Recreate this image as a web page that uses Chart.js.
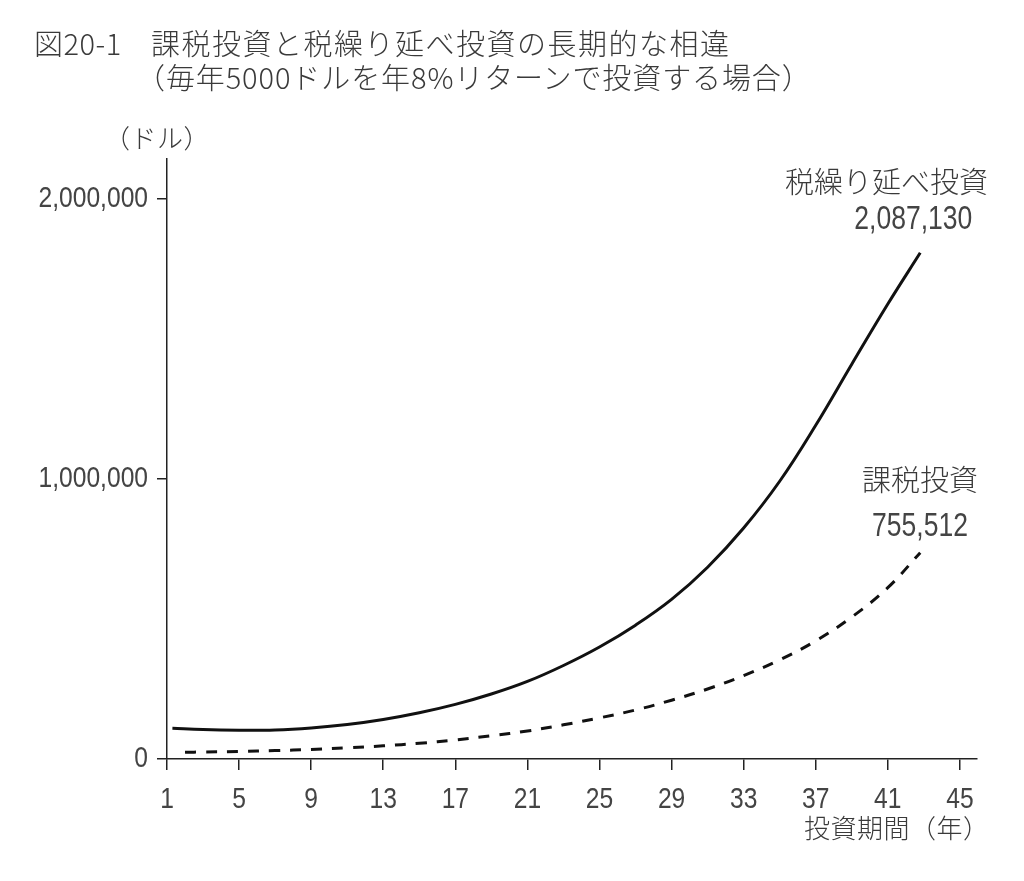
<!DOCTYPE html>
<html lang="ja">
<head>
<meta charset="utf-8">
<script src="https://cdn.jsdelivr.net/npm/chart.js@4.4.1/dist/chart.umd.min.js"></script>
<style>
  html, body { margin: 0; padding: 0; background: #fff; }
  #wrap { position: relative; width: 1024px; height: 881px; overflow: hidden; }
  #chartCanvas { position: absolute; left: 0; top: 0; }
  .txt { position: absolute; color: #3a3a3a; font-family: "Noto Sans CJK JP", "Noto Sans", sans-serif; font-weight: 300; white-space: nowrap; line-height: 1; }
  .num { font-family: "Liberation Sans", sans-serif; font-weight: 400; color: #444; transform: scaleX(0.78); transform-origin: right center; }
</style>
</head>
<body>
<div id="wrap">
  <canvas id="chartCanvas" width="1024" height="881"></canvas>
  <div class="txt" style="left:34px; top:28px; font-size:29px; letter-spacing:0.5px;">図20-1</div>
  <div class="txt" style="left:151px; top:28px; font-size:29px; letter-spacing:1.5px;">課税投資と税繰り延べ投資の長期的な相違</div>
  <div class="txt" style="left:136px; top:62px; font-size:29px; letter-spacing:0.9px;">（毎年5000ドルを年8%リターンで投資する場合）</div>
  <div class="txt" style="left:104px; top:124px; font-size:26px; letter-spacing:0.5px;">（ドル）</div>
  <div class="txt" style="left:804px; top:814px; font-size:26px; letter-spacing:0.5px;">投資期間（年）</div>
  <div class="txt" style="right:36px; top:166px; font-size:29px;">税繰り延べ投資</div>
  <div class="num txt" style="right:52px; top:200px; font-size:34px;">2,087,130</div>
  <div class="txt" style="right:46px; top:464px; font-size:29px;">課税投資</div>
  <div class="num txt" style="right:56px; top:507px; font-size:34px;">755,512</div>
</div>
<script>
// values
const deferredYears = [1.3, 3, 5, 7, 9, 11, 13, 15, 17, 19, 21, 23, 25, 27, 29, 31, 33, 35, 37, 39, 41, 42.8];
const deferredValues = [110000, 105000, 103000, 104000, 111000, 123000, 141000, 165000, 195000, 232000, 277000,
  334000, 400000, 478000, 570000, 685000, 825000, 992000, 1192000, 1410000, 1625000, 1808000];

const taxedYears = [2, 3, 5, 7, 9, 11, 13, 15, 17, 19, 21, 23, 25, 27, 29, 31, 33, 35, 37, 39, 41, 42.8];
const taxedValues = [24000, 25000, 27000, 30000, 34000, 40000, 47000, 56000, 68000, 83000, 100000,
  122000, 147000, 175000, 210000, 250000, 298000, 354000, 422000, 507000, 612000, 737000];

const xTicks = [1, 5, 9, 13, 17, 21, 25, 29, 33, 37, 41, 45];
const yTicks = [0, 1000000, 2000000];

const toPoints = (xs, ys) => xs.map((x, i) => ({ x: x, y: ys[i] }));

// tick labels drawn narrow, like the condensed face of the original
const narrowTicks = {
  id: "narrowTicks",
  afterDraw(chart) {
    const c = chart.ctx;
    const xs = chart.scales.x;
    const ys = chart.scales.y;
    c.save();
    c.fillStyle = "#444";
    c.font = "30px 'Liberation Sans', sans-serif";
    c.textBaseline = "middle";
    c.textAlign = "center";
    xTicks.forEach(v => {
      c.save();
      c.translate(xs.getPixelForValue(v), ys.bottom + 41);
      c.scale(0.82, 1);
      c.fillText(String(v), 0, 0);
      c.restore();
    });
    c.textAlign = "right";
    yTicks.forEach(v => {
      c.save();
      c.translate(ys.left + 148, ys.getPixelForValue(v));
      c.scale(0.82, 1);
      c.fillText(v.toLocaleString("en-US"), 0, 0);
      c.restore();
    });
    c.restore();
  }
};

const ctx = document.getElementById("chartCanvas").getContext("2d");
new Chart(ctx, {
  type: "line",
  data: {
    datasets: [
      {
        label: "税繰り延べ投資",
        data: toPoints(deferredYears, deferredValues),
        borderColor: "#111",
        borderWidth: 3,
        pointRadius: 0,
        fill: false,
        tension: 0.4
      },
      {
        label: "課税投資",
        data: toPoints(taxedYears, taxedValues),
        borderColor: "#111",
        borderWidth: 3,
        borderDash: [11, 10],
        pointRadius: 0,
        fill: false,
        tension: 0.4
      }
    ]
  },
  options: {
    responsive: false,
    animation: false,
    layout: { padding: { top: 159, right: 47, left: 0, bottom: 0 } },
    plugins: { legend: { display: false }, tooltip: { enabled: false } },
    scales: {
      x: {
        type: "linear",
        min: 1,
        max: 45.95,
        afterFit: s => { s.height = 122; },
        afterBuildTicks: s => { s.ticks = xTicks.map(v => ({ value: v })); },
        border: { display: true, color: "#222", width: 1.5 },
        grid: { drawOnChartArea: false, drawTicks: true, tickLength: 11, color: "#222", lineWidth: 1.5 },
        ticks: { display: false }
      },
      y: {
        type: "linear",
        min: 0,
        max: 2143000,
        afterFit: s => { s.width = 167; },
        afterBuildTicks: s => { s.ticks = yTicks.map(v => ({ value: v })); },
        border: { display: true, color: "#222", width: 1.5 },
        grid: { drawOnChartArea: false, drawTicks: true, tickLength: 10, color: "#222", lineWidth: 1.5 },
        ticks: { display: false }
      }
    }
  },
  plugins: [narrowTicks]
});
</script>
</body>
</html>
